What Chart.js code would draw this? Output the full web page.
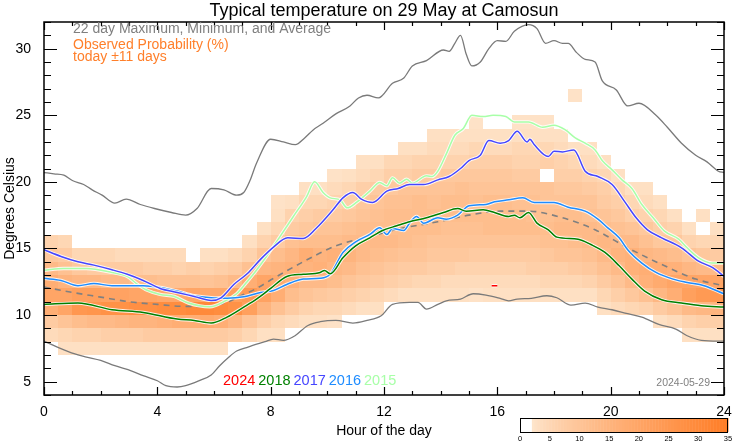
<!DOCTYPE html>
<html><head><meta charset="utf-8">
<script src="https://cdn.jsdelivr.net/npm/chart.js@4.4.1/dist/chart.umd.min.js"></script>
<style>html,body{margin:0;padding:0;background:#fff;}canvas{display:block;}</style>
</head><body>
<canvas id="c" width="742" height="445" style="width:742px;height:445px"></canvas>
<script>
const titleText = "Typical temperature on 29 May at Camosun";
const xTicks = [0,4,8,12,16,20,24];
const yTicks = [5,10,15,20,25,30];
const cbTicks = [0,5,10,15,20,25,30,35];
const yearLabels = ["2024","2018","2017","2016","2015"];
const yearColors = ["#ff0000","#008000","#4646ff","#1e8cff","#a8ffa8"];

// 22-day maximum
const maxHours = [0,0.35,0.7,1.0,1.4,1.7,2.05,2.5,2.9,3.4,3.9,4.5,5.0,5.4,5.9,6.35,6.8,7.05,7.27,7.5,8.0,8.45,8.87,9.2,9.5,9.85,10.3,10.8,11.1,11.4,11.8,12.3,12.7,13.0,13.5,14.1,14.3,14.5,14.7,14.9,15.1,15.4,15.7,16.0,16.3,16.6,17.1,17.4,17.7,18.0,18.3,18.5,18.8,19.1,19.45,19.7,20.2,20.6,21.0,21.6,22.0,22.5,23.0,23.4,23.8,24.0];
const maxTemps = [20.7,20.6,20.5,20.1,19.8,19.4,19.0,18.4,18.7,18.3,18.0,17.7,17.5,18.0,19.5,19.4,19.0,19.2,20.1,21.4,23.2,23.0,22.8,23.3,23.9,24.4,25.1,25.7,26.3,26.5,26.3,27.4,27.8,28.7,29.1,29.9,29.8,30.4,31.0,29.6,28.7,29.0,30.0,30.6,30.55,31.3,31.8,31.5,30.4,30.6,30.4,30.4,29.7,29.2,29.0,27.6,26.9,25.7,25.9,25.0,24.1,22.9,22.0,21.5,20.8,20.7];
// 22-day minimum
const minHours = [0,0.47,1.06,1.5,2.0,2.5,3.1,3.5,4.0,4.3,4.7,5.0,5.5,5.9,6.2,6.5,6.8,7.2,7.8,8.1,8.45,8.86,9.3,9.75,10.3,10.9,11.4,11.9,12.3,12.9,13.2,13.5,13.9,14.2,14.7,15.15,15.6,16.1,16.4,16.7,17.2,17.75,18.1,18.6,19.1,19.55,20.05,20.6,21.1,21.7,22.3,22.7,23.2,23.8,24.0];
const minTemps = [8.04,7.6,7.1,6.85,6.6,6.2,5.8,5.45,5.07,4.7,4.6,4.7,5.1,5.5,6.2,6.8,7.3,7.6,8.0,8.2,8.1,8.45,9.2,9.5,9.6,9.4,9.6,9.95,10.8,10.95,10.95,10.45,10.8,11.07,11.2,11.6,11.5,11.25,11.07,11.2,11.26,11.45,11.3,10.75,10.9,10.6,10.4,10.1,9.85,9.3,8.95,8.45,8.1,8.04,8.05];
// 22-day average
const avgHours = [0,1.0,2.0,3.0,4.0,5.0,5.75,6.5,7.0,7.5,8.1,9.15,10.3,11.5,12.7,13.9,15.0,16.1,17.1,18.3,19.45,20.6,21.8,23.0,24.0];
const avgTemps = [12.1,11.7,11.35,11.0,10.8,10.65,10.65,11.0,11.5,12.0,12.75,14.0,15.2,15.9,16.55,17.0,17.5,17.8,17.8,17.3,16.4,15.05,13.8,12.7,12.2];

const y2024Hours = [15.8,16.0];
const y2024Temps = [12.2,12.2];
const y2018Hours = [0,1.2,2.4,3.5,4.7,5.3,5.9,6.46,7.05,7.5,8.0,8.57,9.15,9.75,9.9,10.1,10.55,11.0,11.5,11.95,12.45,12.9,13.5,14.1,14.6,14.9,15.5,15.9,16.4,16.6,16.8,17.1,17.4,17.8,18.1,18.85,19.3,19.8,20.3,20.75,21.2,21.8,22.5,23.2,24.0];
const y2018Temps = [10.8,10.9,10.4,10.2,9.7,9.6,9.4,9.85,10.6,11.2,12.0,12.9,13.06,13.2,13.35,13.1,14.3,15.2,15.8,16.35,16.7,17.0,17.3,17.7,18.0,17.8,17.9,17.7,17.4,17.5,17.3,17.7,16.9,16.4,15.85,15.7,15.3,14.7,13.7,12.7,11.8,11.15,10.9,10.7,10.6];
const y2017Hours = [0,0.6,1.2,1.76,2.4,2.94,3.5,4.1,4.7,5.3,5.9,6.25,6.7,7.17,7.65,8.1,8.6,9.15,9.6,10.2,10.55,10.9,11.2,11.6,12.1,12.5,12.9,13.4,13.9,14.3,14.7,15.0,15.4,15.7,16.1,16.4,16.7,17.05,17.15,17.3,17.8,18.0,18.3,18.7,19.1,19.55,20.05,20.5,20.9,21.3,21.8,22.5,23.1,23.6,24.0];
const y2017Temps = [14.9,14.4,14.0,13.75,13.4,13.06,12.6,12.0,11.7,11.4,11.1,11.3,12.3,13.1,14.2,15.1,15.8,15.75,16.5,17.9,18.8,19.2,18.7,18.45,19.3,19.5,19.8,19.8,20.15,20.4,21.0,21.6,22.0,23.1,22.9,23.1,23.8,23.0,23.2,22.8,21.9,22.3,22.25,22.4,20.8,20.4,19.8,18.5,17.3,16.4,15.8,15.05,14.05,13.56,12.9];
const y2016Hours = [0,0.6,1.2,1.76,2.4,3.5,4.1,4.7,5.3,5.9,6.46,7.05,7.65,8.1,8.57,9.15,9.75,10.1,10.55,11.0,11.5,11.85,12.1,12.3,12.7,12.9,13.15,13.4,13.9,14.2,14.6,15.0,15.6,15.9,16.4,16.9,17.3,18.0,18.5,19.1,19.55,19.9,20.3,20.6,21.1,21.6,22.2,22.7,23.3,24.0];
const y2016Temps = [12.76,12.6,12.2,12.37,12.2,12.2,12.07,11.8,11.45,11.3,11.27,11.37,11.7,11.85,12.3,12.7,12.76,13.06,14.7,15.5,16.05,16.55,16.05,16.5,16.35,16.9,17.4,16.9,17.3,17.2,17.5,18.2,18.3,18.5,18.65,18.8,18.45,18.45,18.1,17.8,17.2,16.55,15.8,14.9,13.9,13.2,12.7,12.45,12.2,11.6];
const y2015Hours = [0,0.7,1.5,2.4,2.94,3.3,3.6,4.1,4.6,5.1,5.85,6.4,6.8,7.15,7.4,7.85,8.3,8.8,9.27,9.55,9.85,10.1,10.45,10.7,11.05,11.5,11.85,12.1,12.3,12.55,12.8,13.0,13.5,13.7,13.9,14.2,14.5,14.8,15.1,15.5,15.85,16.3,16.6,17.1,17.6,18.0,18.4,18.75,19.1,19.45,19.7,20.05,20.4,20.75,21.1,21.5,21.9,22.4,22.7,23.1,23.6,24.0];
const y2015Temps = [13.36,13.5,13.5,13.2,12.9,12.3,11.9,11.55,11.4,10.9,10.62,11.07,11.6,12.46,13.1,14.4,15.8,17.4,18.9,20.0,19.2,18.8,18.65,18.05,18.5,19.3,19.95,19.7,20.3,19.9,20.2,19.9,20.45,20.4,20.8,22.1,23.5,24.0,25.0,24.9,25.0,24.9,24.5,24.5,24.1,24.25,23.9,23.3,22.9,22.4,21.6,20.9,20.15,19.5,18.3,17.3,16.3,15.7,15.05,14.3,13.9,13.9];

// Observed probability (%), half-hour columns starting at 0:00; each column lists
// the lowest 1-degree row and the probabilities upward from it.
const heatColHours = 0.5;
const heatBottom = [8,7,7,7,7,7,7,7,7,7,7,7,7,8,8,8,8,9,9,9,9,10,10,10,11,11,11,11,11,11,11,11,11,11,11,11,11,11,11,10,10,10,10,9,9,8,8,8];
const heatProb = [
 [4,8,17,20,17,13,9,6],
 [3,5,10,20,20,15,11,8,5],
 [3,6,12,25,22,14,9,5],
 [3,6,13,26,22,14,8,5],
 [3,7,13,27,21,13,8,5],
 [3,7,14,27,21,13,8,4],
 [3,7,15,28,20,12,8,4],
 [3,8,15,28,20,12,7,4],
 [3,8,16,29,19,11,7,4],
 [3,8,17,29,19,11,6,4],
 [3,8,17,30,20,11,7],
 [3,8,18,30,19,10,6,3],
 [3,8,17,29,19,11,7,3],
 [7,14,27,22,13,8,4],
 [5,10,22,24,17,11,6,3],
 [3,7,15,21,20,14,10,6,3],
 [3,5,11,17,18,15,12,8,5,3,2.5],
 [4,8,12,16,16,14,11,8,6,3],
 [3,6,10,13,15,17,12,9,7,5,3],
 [3,5,9,13,16,15,12,10,8,5,3],
 [2.5,5,8,12,14,16,12,10,8,6,4,2.5],
 [4,7,10,13,15,13,11,9,7,5,3],
 [3,6,9,11,13,13,12,10,9,7,4,3],
 [3,5,8,10,12,13,12,11,10,8,5,3],
 [4,7,9,11,13,12,12,11,9,7,5],
 [3,6,8,10,12,12,12,11,10,7,5,3],
 [3,5,8,10,11,12,12,12,10,8,6,3],
 [3,5,7,9,10,12,12,11,10,8,6,4,3],
 [3,4,7,9,10,11,12,12,10,9,6,4,3],
 [3,4,6,9,10,11,12,12,11,9,6,4,3],
 [2.5,4,6,8,10,11,12,11,10,9,7,5,3,2.5],
 [3,4,6,8,10,12,12,12,10,9,7,4,3],
 [3,4,6,8,10,12,12,12,10,9,7,4,3],
 [3,4,6,8,10,12,12,11,10,8,6,5,3,2.5],
 [3,4,7,8,10,12,11,11,10,8,6,5,3,2.5],
 [3,5,7,9,11,12,11,10,10,0,7,5,3,2.5],
 [3,5,7,10,11,13,12,10,9,7,6,4,3],
 [3,5,8,10,12,13,12,10,9,7,5,3,0,0,0,2.5],
 [3,6,9,11,13,13,11,10,8,6,4,3],
 [3,5,8,11,13,14,12,10,8,7,5,3],
 [4,7,10,13,15,13,11,9,7,5,3],
 [5,9,13,16,16,13,10,7,5,3],
 [6,11,16,17,14,11,9,6,4,3],
 [3,8,14,18,17,13,9,7,5,3],
 [4,10,17,20,16,12,9,6,3],
 [3,6,13,22,20,14,10,6,3],
 [3,7,14,24,20,13,9,5,0,3],
 [3,7,15,25,20,13,8,5,3]
];

const FONT = "'Liberation Sans', Arial, Helvetica, sans-serif";
const cbMax = 35;
function probColor(p){
  if (p < 2) return null;
  const t = Math.pow(Math.min(1, (p - 2) / (cbMax - 2)), 0.8);
  const r = Math.round(254 + (255-254)*t);
  const g = Math.round(230 + (125-230)*t);
  const b = Math.round(205 + (38-205)*t);
  return `rgb(${r},${g},${b})`;
}
const pts = (hs, ts) => hs.map((h,i)=>({x:h, y:ts[i]}));

const datasets = [];
datasets.push({data:pts(maxHours,maxTemps), borderColor:'#7a7a7a', borderWidth:1.3, order:20});
datasets.push({data:pts(minHours,minTemps), borderColor:'#7a7a7a', borderWidth:1.3, order:20});
datasets.push({data:pts(avgHours,avgTemps), borderColor:'#808080', borderWidth:1.6, borderDash:[6,5], order:20});
const yearSeries = [
  [y2015Hours,y2015Temps,yearColors[4]],
  [y2016Hours,y2016Temps,yearColors[3]],
  [y2017Hours,y2017Temps,yearColors[2]],
  [y2018Hours,y2018Temps,yearColors[1]],
  [y2024Hours,y2024Temps,yearColors[0]]
];
let ord = 15;
yearSeries.forEach(([h,t,c])=>{
  datasets.push({data:pts(h,t), borderColor:'rgba(255,255,255,0.85)', borderWidth:3.4, order:ord--});
  datasets.push({data:pts(h,t), borderColor:c, borderWidth:1.5, order:ord--});
});

const deco = {
  id:'deco',
  beforeDatasetsDraw(chart){
    const {ctx, chartArea:a, scales:{x,y}} = chart;
    ctx.save();
    ctx.beginPath(); ctx.rect(a.left,a.top,a.right-a.left,a.bottom-a.top); ctx.clip();
    heatProb.forEach((col,i)=>{
      const h0 = i*heatColHours, h1 = h0+heatColHours;
      const x0 = Math.round(x.getPixelForValue(h0)), x1 = Math.round(x.getPixelForValue(h1));
      col.forEach((p,j)=>{
        const c = probColor(p); if(!c) return;
        const tLo = heatBottom[i]+j, tHi = tLo+1;
        const y0 = Math.round(y.getPixelForValue(tHi)), y1 = Math.round(y.getPixelForValue(tLo));
        ctx.fillStyle = c; ctx.fillRect(x0,y0,x1-x0,y1-y0);
      });
    });
    ctx.restore();
  },
  afterDraw(chart){
    const {ctx, chartArea:a, scales:{x,y}} = chart;
    ctx.save();
    // ticks
    ctx.strokeStyle='#000'; ctx.lineWidth=1.2;
    ctx.beginPath();
    for(let h=x.min; h<=x.max; h+=1){
      const px = Math.round(x.getPixelForValue(h))+0.5;
      const L = (xTicks.includes(h)) ? 8 : 4;
      ctx.moveTo(px,a.bottom); ctx.lineTo(px,a.bottom-L);
      ctx.moveTo(px,a.top); ctx.lineTo(px,a.top+L);
    }
    for(let t=Math.ceil(y.min); t<=y.max; t+=1){
      const py = Math.round(y.getPixelForValue(t))+0.5;
      const L = (yTicks.includes(t)) ? 13 : 7;
      ctx.moveTo(a.left,py); ctx.lineTo(a.left+L,py);
      ctx.moveTo(a.right,py); ctx.lineTo(a.right-L,py);
    }
    ctx.stroke();
    ctx.lineWidth=1.5;
    ctx.strokeRect(a.left,a.top,a.right-a.left,a.bottom-a.top);
    // title
    ctx.fillStyle='#000'; ctx.textAlign='center'; ctx.textBaseline='middle';
    ctx.font=`18px ${FONT}`;
    ctx.fillText(titleText,(a.left+a.right)/2,11);
    // axis titles
    ctx.font=`14px ${FONT}`;
    ctx.fillText("Hour of the day",(a.left+a.right)/2,431);
    ctx.save(); ctx.translate(10,(a.top+a.bottom)/2); ctx.rotate(-Math.PI/2);
    ctx.fillText("Degrees Celsius",0,0); ctx.restore();
    // legends
    ctx.textAlign='left';
    ctx.font=`14px ${FONT}`;
    ctx.fillStyle='#7f7f7f'; ctx.fillText("22 day Maximum, Minimum, and Average",a.left+29,a.top+7);
    ctx.fillStyle='#ff7f2a'; ctx.fillText("Observed Probability (%)",a.left+29,a.top+23);
    ctx.fillText("today \u00b111 days",a.left+29,a.top+35);
    // year labels
    let xx = 223;
    ctx.font=`14.5px ${FONT}`;
    yearLabels.forEach((lab,i)=>{ ctx.fillStyle=yearColors[i]; ctx.fillText(lab,xx,381); xx += ctx.measureText(lab).width + 3; });
    // date
    ctx.textAlign='right'; ctx.fillStyle='#808080'; ctx.font=`10.5px ${FONT}`;
    ctx.fillText("2024-05-29",a.right-14,383);
    // colorbar
    const cbL=520, cbR=728, cbT=418, cbB=432;
    const n=140;
    for(let k=0;k<n;k++){
      const v0 = cbMax*k/n, v1=cbMax*(k+1)/n;
      const c = probColor((v0+v1)/2) || '#ffffff';
      const px0 = cbL+(cbR-cbL)*v0/cbMax, px1=cbL+(cbR-cbL)*v1/cbMax;
      ctx.fillStyle=c; ctx.fillRect(px0,cbT,px1-px0+0.5,cbB-cbT);
    }
    ctx.lineWidth=1; ctx.strokeStyle='#000'; ctx.strokeRect(cbL+0.5,cbT+0.5,cbR-cbL-1,cbB-cbT);
    ctx.fillStyle='#000'; ctx.textAlign='center'; ctx.font=`7.5px ${FONT}`;
    cbTicks.forEach(v=>{ ctx.fillText(String(v), cbL+(cbR-cbL)*v/cbMax, 438.5); });
    ctx.restore();
  }
};

new Chart(document.getElementById('c'), {
  type:'line',
  data:{datasets},
  options:{
    responsive:false, animation:false, devicePixelRatio:1,
    layout:{padding:{top:22,right:18,left:0,bottom:0}},
    plugins:{legend:{display:false}, tooltip:{enabled:false}, title:{display:false}},
    elements:{point:{radius:0}, line:{cubicInterpolationMode:'monotone'}},
    scales:{
      x:{type:'linear', min:0, max:24,
         afterBuildTicks:s=>{s.ticks=xTicks.map(v=>({value:v}));},
         afterFit:s=>{s.height=50;},
         grid:{display:false}, border:{display:false},
         ticks:{color:'#000', font:{family:FONT,size:14}, padding:1, maxRotation:0, autoSkip:false}},
      y:{type:'linear', min:4, max:32,
         afterBuildTicks:s=>{s.ticks=yTicks.map(v=>({value:v}));},
         afterFit:s=>{s.width=44;},
         grid:{display:false}, border:{display:false},
         ticks:{color:'#000', font:{family:FONT,size:14}, padding:5, autoSkip:false}}
    }
  },
  plugins:[deco]
});
</script>
</body></html>
